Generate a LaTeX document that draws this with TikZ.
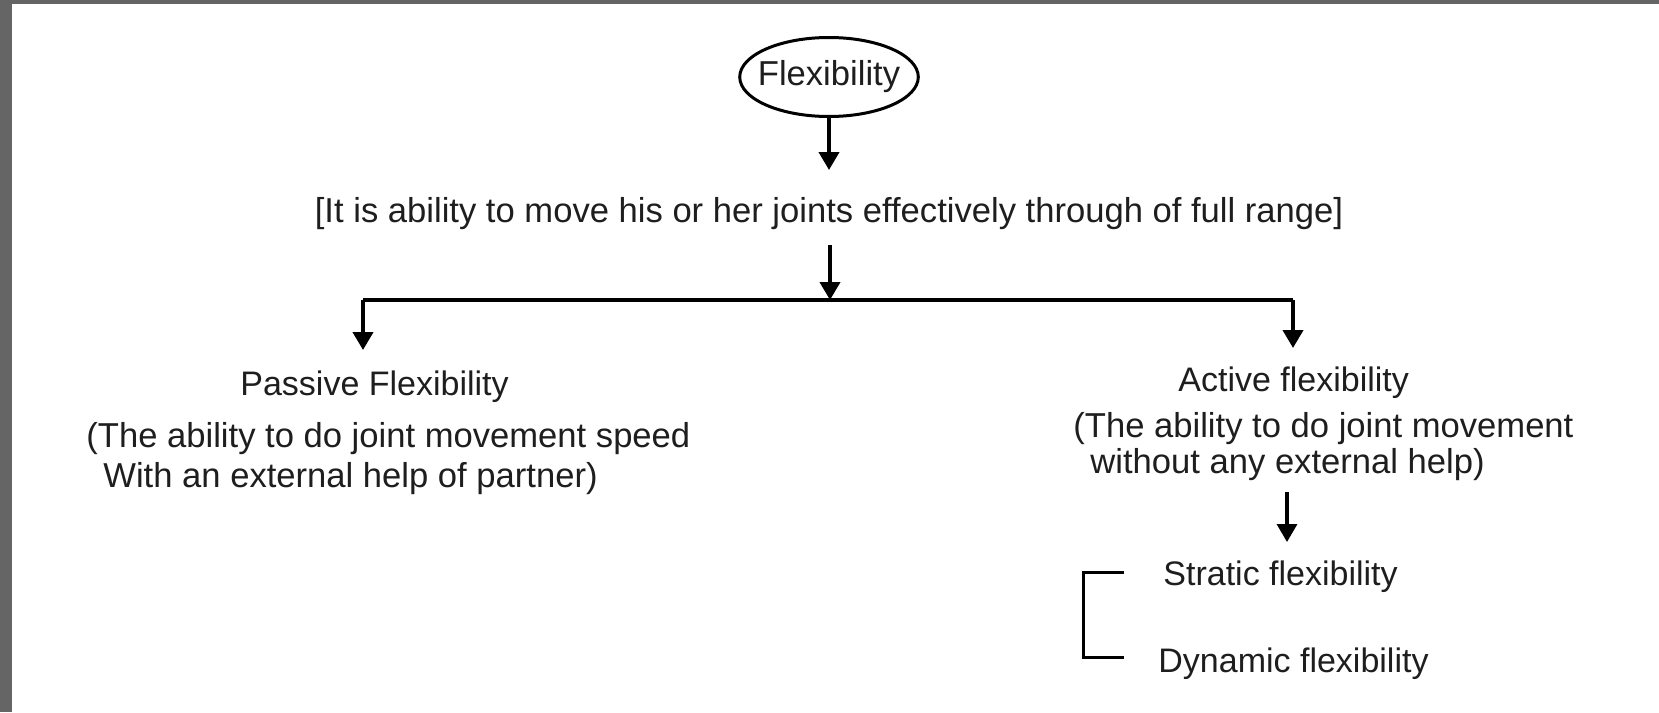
\documentclass[tikz,border=0pt]{standalone}
\usepackage{fontspec}
\setmainfont{Liberation Sans}
\usetikzlibrary{arrows.meta,shapes.geometric}
\definecolor{frame}{HTML}{656565}
\definecolor{ink}{HTML}{1E1E1E}
\begin{document}
\begin{tikzpicture}[x=0.5pt,y=-0.5pt,
  conn/.style={line width=2pt, draw=black},
  arr/.style={conn, -{Triangle[width=10pt,length=9pt]}},
  thin/.style={line width=1.5pt, draw=black},
  lbl/.style={anchor=base west, inner sep=0pt, text=ink, font=\fontsize{17}{20}\selectfont},
  para/.style={anchor=base west, inner sep=0pt, text=ink, font=\fontsize{17.3}{20}\selectfont},
  headtext/.style={anchor=base, inner sep=0pt, text=ink, font=\fontsize{17.3}{20}\selectfont},
  oval/.style={ellipse, draw=black, line width=1.5pt, minimum width=89pt, minimum height=39.5pt, inner xsep=-4pt, inner ysep=5pt, text=ink, font=\fontsize{17.3}{20}\selectfont}]
\fill[white] (0,0) rectangle (1659,712);
\fill[frame] (0,0) rectangle (1659,4);
\fill[frame] (0,0) rectangle (12,712);
\useasboundingbox (0,0) rectangle (1659,712);

\node[oval] (flex) at (829,77) {Flexibility};
\node[headtext] (def) at (829,222) {[It is ability to move his or her joints effectively through of full range]};

\coordinate (a1e) at (829,170);
\coordinate (a2s) at (830,245);
\coordinate (hc) at (830,300);
\coordinate (hl) at (363,300);
\coordinate (hr) at (1293,300);
\coordinate (pl) at (363,350);
\coordinate (pr) at (1293,348);

\node[lbl] (pas) at (240,395) {Passive Flexibility};
\node[para] (pas1) at (86,447) {(The ability to do joint movement speed};
\node[para] (pas2) at (103,487) {With an external help of partner)};

\node[lbl] (act) at (1178,391) {Active flexibility};
\node[para] (act1) at (1073,437) {(The ability to do joint movement};
\node[para] (act2) at (1090,473) {without any external help)};

\coordinate (a3s) at (1287,492);
\coordinate (a3e) at (1287,542);

\node[lbl] (stat) at (1163,585) {Stratic flexibility};
\node[lbl] (dyn) at (1158,672) {Dynamic flexibility};

\coordinate (bt) at (1124,572);
\coordinate (bb) at (1124,657);

\draw[arr] (flex.south) -- (a1e);
\draw[arr] (a2s) -- (hc);
\draw[conn] (hl) -- (hr);
\draw[arr] (hl) -- (pl);
\draw[arr] (hr) -- (pr);
\draw[arr, line width=1.7pt] (a3s) -- (a3e);
\draw[thin] (bt) -- ++(-41,0) |- (bb);
\end{tikzpicture}
\end{document}
